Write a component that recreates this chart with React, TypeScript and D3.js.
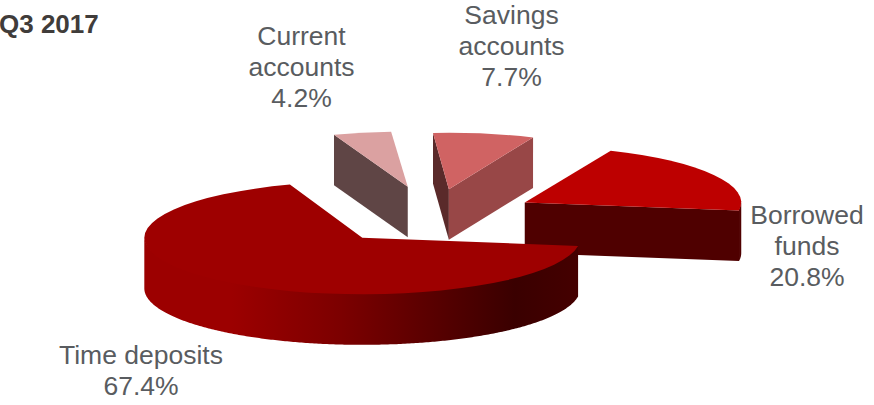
import React, { useEffect, useRef } from 'react';
import * as d3 from 'd3';

const categories = ['Time deposits', 'Current accounts', 'Savings accounts', 'Borrowed funds'];
const shares = [67.4, 4.2, 7.7, 20.8];
const explodeBy = [0.5, 0.53, 0.48, 0.49];
// the source has a slight perspective, so slices differ a little in radius
const radiusX = [218, 222, 212, 216.5];
const radiusY = [56.5, 55, 56.5, 56.5];
const topColors = ['#9e0000', '#dba1a1', '#d06363', '#bd0000'];
const startFaceColors = ['#5a0000', '#5f4545', '#5a2a2a', '#3f0000'];
const endFaceColors = ['#5a0000', '#5f4545', '#984747', '#4f0000'];
const labelLines = [
  ['Time deposits', '67.4%'],
  ['Current', 'accounts', '4.2%'],
  ['Savings', 'accounts', '7.7%'],
  ['Borrowed', 'funds', '20.8%'],
];
// first baseline of each label
const labelPos = [
  [141, 364],
  [301.5, 45],
  [511.5, 24],
  [807, 224],
];
const drawOrder = [1, 2, 3, 0];

const width = 874;
const height = 405;
const baseRx = 218;
const baseRy = 56.5;
const depth = 50.5;
const cx = 431.5;
const cy = 216;
const startDeg = 98.2;
const lineH = 30.8;

const App: React.FC = () => {
  const svgRef = useRef<SVGSVGElement | null>(null);

  useEffect(() => {
    if (!svgRef.current) return;
    const svg = d3.select(svgRef.current);
    svg.selectAll('*').remove();

    const rad = Math.PI / 180;
    const pie = d3
      .pie<number>()
      .sort(null)
      .value((d) => d)
      .startAngle(startDeg * rad)
      .endAngle((startDeg + 360) * rad);
    const arcs = pie(shares);

    // rim shading of the big slice
    const grad = svg
      .append('defs')
      .append('linearGradient')
      .attr('id', 'rim')
      .attr('gradientUnits', 'userSpaceOnUse')
      .attr('x1', 145)
      .attr('x2', 580)
      .attr('y1', 0)
      .attr('y2', 0);
    const stops: [number, string][] = [
      [0, '#9c0000'],
      [0.2, '#9c0000'],
      [0.45, '#7c0000'],
      [0.7, '#520000'],
      [0.85, '#3a0000'],
      [1, '#450000'],
    ];
    stops.forEach(([o, c]) => grad.append('stop').attr('offset', o).attr('stop-color', c));

    const poly = d3.line<[number, number]>().curve(d3.curveLinearClosed);

    drawOrder.forEach((i) => {
      const d = arcs[i];
      const rx = radiusX[i];
      const ry = radiusY[i];
      const mid = (d.startAngle + d.endAngle) / 2;
      const ox = cx + explodeBy[i] * baseRx * Math.sin(mid);
      const oy = cy - explodeBy[i] * baseRy * Math.cos(mid);
      const px = (a: number) => ox + rx * Math.sin(a);
      const py = (a: number) => oy - ry * Math.cos(a);
      const g = svg.append('g');

      // cut faces, only when they look towards the viewer
      if (Math.sin(d.startAngle) < 0) {
        g.append('path')
          .attr('d', poly([
            [ox, oy],
            [px(d.startAngle), py(d.startAngle)],
            [px(d.startAngle), py(d.startAngle) + depth],
            [ox, oy + depth],
          ]))
          .attr('fill', startFaceColors[i]);
      }
      if (Math.sin(d.endAngle) > 0) {
        g.append('path')
          .attr('d', poly([
            [ox, oy],
            [px(d.endAngle), py(d.endAngle)],
            [px(d.endAngle), py(d.endAngle) + depth],
            [ox, oy + depth],
          ]))
          .attr('fill', endFaceColors[i]);
      }

      // outer rim, front half of the ellipse only; starts a bit under the
      // top face so no light seam shows between the two
      const norm = (a: number) => ((a % (2 * Math.PI)) + 2 * Math.PI) % (2 * Math.PI);
      const rimFrom = Math.max(norm(d.startAngle), Math.PI / 2);
      const rimTo = Math.min(norm(d.startAngle) + (d.endAngle - d.startAngle), (3 * Math.PI) / 2);
      if (rimTo > rimFrom) {
        const area = d3
          .area<number>()
          .x((a) => px(a))
          .y0((a) => py(a) - 1.5)
          .y1((a) => py(a) + depth);
        g.append('path')
          .attr('d', area(d3.range(rimFrom, rimTo, 0.01).concat(rimTo)))
          .attr('fill', i === 0 ? 'url(#rim)' : endFaceColors[i]);
      }

      // top face
      const arc = d3.arc<d3.PieArcDatum<number>>().innerRadius(0).outerRadius(rx);
      g.append('path')
        .attr('d', arc(d))
        .attr('transform', `translate(${ox},${oy}) scale(1,${ry / rx})`)
        .attr('fill', topColors[i]);
    });

    // labels
    categories.forEach((_, i) => {
      const t = svg
        .append('text')
        .attr('text-anchor', 'middle')
        .attr('font-family', '"Liberation Sans", Arial, sans-serif')
        .attr('font-size', 26.5)
        .attr('fill', '#595c60');
      labelLines[i].forEach((line, k) => {
        t.append('tspan')
          .attr('x', labelPos[i][0])
          .attr('y', labelPos[i][1] + k * lineH)
          .text(line);
      });
    });

    svg
      .append('text')
      .attr('x', -1)
      .attr('y', 33)
      .attr('font-family', '"Liberation Sans", Arial, sans-serif')
      .attr('font-size', 26)
      .attr('font-weight', 'bold')
      .attr('fill', '#403c3a')
      .text('Q3 2017');
  }, []);

  return (
    <svg
      ref={svgRef}
      width={width}
      height={height}
      viewBox={`0 0 ${width} ${height}`}
      style={{ position: 'absolute', left: 0, top: 0, background: '#fff' }}
    />
  );
};

export default App;
